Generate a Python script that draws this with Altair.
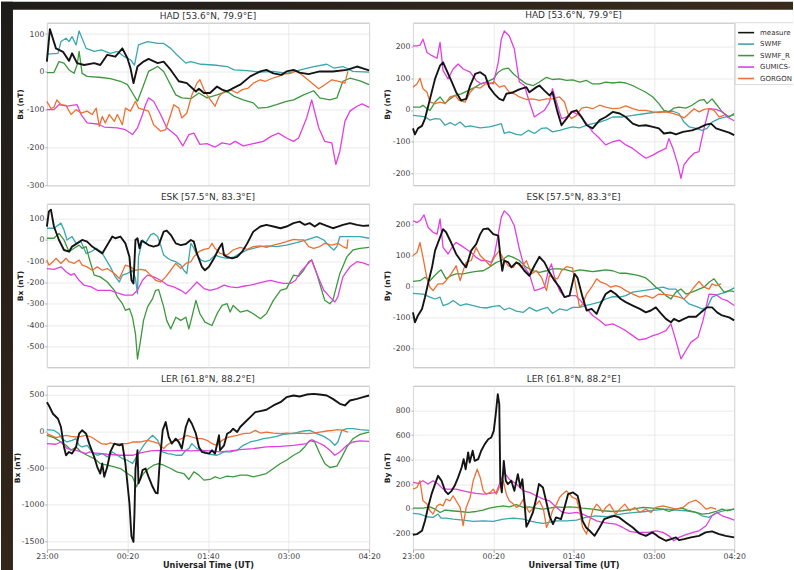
import json
import altair as alt
import pandas as pd

# ---------------------------------------------------------------------------
# Series, colours and time axis
# ---------------------------------------------------------------------------
SERIES = ["measured", "SWMF", "SWMF_RCM", "GUMICS-4", "GORGON"]
COLORS = ["#141414", "#3aa6ad", "#3c983c", "#e040e0", "#ec7034"]
MODELS = SERIES[1:]

# time in minutes after 23:00 UT
TICK_MINUTES = [0, 80, 160, 240, 320]
TICK_LABELS = ["23:00", "00:20", "01:40", "03:00", "04:20"]

# ---------------------------------------------------------------------------
# HAD  Bx
# ---------------------------------------------------------------------------
HAD_BX_MEAS_T = [0,3,9,16,22,25,30,37,47,53,60,68,75,80,83,86,90,96,101,110,116,123,131,139,148,151,156,162,169,174,179,185,192,202,212,218,225,233,238,245,251,260,271,284,298,308,313,320]
HAD_BX_MEAS = [27,113,62,53,29,49,23,18,23,18,45,40,62,36,10,-30,14,27,34,23,27,5,-25,-30,-52,-45,-56,-56,-39,-47,-52,-43,-34,-12,1,5,-4,-8,1,5,-2,-6,1,1,5,14,10,4]
HAD_BX_SWMF_T = [0,11,14,19,22,25,29,32,39,47,54,63,70,77,83,87,91,100,110,116,123,129,138,143,153,166,179,186,199,212,225,238,252,265,278,285,294,304,320]
HAD_BX_SWMF = [47,49,80,89,80,93,71,108,62,54,58,49,54,40,32,18,71,80,75,75,62,45,23,27,20,18,14,5,3,-1,1,-4,5,14,20,10,14,1,-1]
HAD_BX_RCM_T = [0,7,12,17,22,27,30,32,35,40,54,63,73,80,85,90,95,101,110,116,121,128,134,143,151,159,169,179,186,195,205,210,219,228,238,245,255,265,271,281,288,294,301,311,320]
HAD_BX_RCM = [-2,-2,27,23,5,-4,18,54,-4,-12,-15,-18,-25,-34,-56,-78,-43,1,14,1,-25,-61,-69,-71,-56,-69,-61,-52,-65,-74,-82,-96,-94,-87,-78,-74,-61,-50,-69,-74,-69,-25,-17,-24,-34]
HAD_BX_GUM_T = [0,7,12,20,30,34,40,50,57,70,78,85,90,95,98,101,106,113,119,129,135,141,146,152,159,167,174,182,187,195,205,215,223,230,238,245,250,258,263,270,276,283,287,291,296,301,308,313,320]
HAD_BX_GUM = [-100,-100,-87,-91,-87,-113,-135,-138,-146,-148,-153,-166,-148,-113,-87,-69,-78,-113,-148,-170,-196,-166,-162,-192,-190,-199,-188,-192,-184,-196,-190,-184,-170,-162,-175,-184,-175,-122,-74,-148,-184,-188,-245,-210,-131,-104,-91,-85,-94]
HAD_BX_GOR_T = [0,4,7,10,14,19,24,29,34,40,45,49,52,55,58,62,67,70,75,78,83,88,91,96,101,106,113,118,123,126,131,134,139,144,149,152,156,161,167,171,176,182,189,194,200,205,212,217,224,230,235,242,248,255,261,270,276,283,290,296,299]
HAD_BX_GOR = [-78,-97,-94,-74,-87,-89,-113,-100,-109,-104,-113,-96,-144,-118,-135,-113,-131,-113,-140,-96,-104,-78,-96,-100,-104,-140,-157,-153,-113,-87,-96,-122,-109,-61,-30,-21,-47,-69,-91,-65,-52,-47,-56,-47,-43,-30,-21,-25,-17,-12,-6,-4,3,-12,-25,-45,-34,-21,-25,-30,1]

# ---------------------------------------------------------------------------
# HAD  By
# ---------------------------------------------------------------------------
HAD_BY_MEAS_T = [0,2,5,9,12,17,22,27,30,33,38,43,48,53,57,62,67,72,76,81,86,90,93,100,106,113,116,123,126,131,136,139,144,148,153,158,163,168,173,179,186,192,199,206,212,219,225,232,239,245,250,257,262,269,278,285,292,297,302,308,315,320]
HAD_BY_MEAS = [-58,-77,-58,-50,-27,35,98,140,150,129,93,56,30,35,77,114,119,108,72,51,35,30,51,56,65,72,56,72,77,61,46,56,-6,-48,-27,-6,-1,-22,-48,-58,-32,-22,-6,-11,-22,-43,-50,-48,-53,-58,-74,-71,-77,-69,-64,-56,-46,-43,-58,-64,-71,-79]
HAD_BY_SWMF_T = [0,7,12,17,22,27,32,37,42,47,52,57,67,76,83,88,91,96,103,108,115,121,128,133,139,146,153,159,166,173,179,186,192,199,209,219,232,245,259,265,270,275,282,288,293,298,305,312,320]
HAD_BY_SWMF = [-17,-19,-22,-32,-27,-29,-48,-40,-48,-38,-53,-50,-56,-53,-48,-43,-74,-69,-77,-79,-64,-74,-58,-56,-69,-64,-58,-53,-56,-48,-43,-38,-32,-22,-22,-17,-11,-6,-4,-11,-38,-53,-58,-64,-58,-38,-27,-22,-15]
HAD_BY_RCM_T = [0,7,10,14,17,22,27,32,37,42,48,55,62,67,73,80,85,90,95,100,106,113,120,126,133,139,146,153,159,166,173,179,186,192,199,206,212,219,225,232,239,245,250,255,260,265,272,278,285,290,293,298,303,308,315,320]
HAD_BY_RCM = [9,9,15,4,-1,25,41,20,35,46,51,61,72,82,88,98,119,129,132,114,98,82,77,88,103,96,98,93,95,88,93,82,82,88,85,88,85,77,67,56,41,20,-1,-6,6,9,6,15,30,33,20,35,15,-6,-22,-11]
HAD_BY_GUM_T = [0,4,7,10,14,19,24,27,30,35,40,45,50,57,63,68,73,80,85,88,91,96,101,106,111,116,121,126,131,136,139,143,148,153,159,166,173,179,186,192,199,206,212,219,225,232,239,245,252,255,259,264,267,270,275,280,285,290,295,302,308,313,320]
HAD_BY_GUM = [202,202,204,223,181,171,163,213,124,98,129,145,129,119,93,82,88,82,150,223,249,233,192,88,77,25,-22,-11,-1,25,67,25,-27,-22,-6,-17,-43,-69,-90,-110,-100,-95,-110,-121,-136,-152,-142,-131,-121,-90,-121,-173,-215,-173,-152,-136,-131,-58,4,2,-6,-22,-34]
HAD_BY_GOR_T = [0,4,7,10,14,17,22,27,32,37,42,46,52,57,62,67,72,76,81,86,91,96,101,106,113,119,126,133,139,146,151,155,158,163,168,173,179,186,192,199,206,212,219,225,232,239,245,252,259,265,270,275,280,285,290,295,300,305,310]
HAD_BY_GOR = [72,82,100,67,56,25,20,25,20,41,46,30,25,56,72,69,82,82,88,72,77,56,51,41,33,35,30,35,35,41,25,-17,-27,-17,6,9,4,15,9,4,6,13,4,-1,-1,-6,-8,-6,-11,-17,-25,-11,4,-6,2,4,-1,-22,-17]

# ---------------------------------------------------------------------------
# ESK  Bx
# ---------------------------------------------------------------------------
ESK_BX_MEAS_T = [0,2,4,7,12,17,22,25,30,35,40,45,50,55,60,65,68,73,78,82,84,86,88,90,92,94,96,101,106,111,116,119,123,128,133,138,143,146,149,154,157,161,166,171,174,176,179,184,189,194,199,205,212,218,225,232,238,245,251,256,261,266,271,278,284,289,294,301,308,314,320]
ESK_BX_MEAS = [63,134,142,63,0,-47,-55,-31,-16,0,-8,-31,-47,-63,-24,16,8,16,-16,-79,-189,-204,0,8,-39,-5,-8,-24,-31,-24,39,44,24,-16,-24,-19,0,-8,-63,-126,-142,-126,-86,-39,-16,-71,-79,-86,-79,-55,-16,39,63,71,63,55,63,79,86,71,79,63,79,66,55,63,71,79,71,66,68]
ESK_BX_SWMF_T = [0,7,14,17,20,25,29,34,39,44,49,54,58,63,68,72,75,80,85,88,90,91,95,98,103,106,110,113,116,120,123,128,133,136,139,143,146,149,153,157,162,167,172,179,186,192,199,205,212,219,228,238,248,258,268,275,281,285,288,291,301,311,320]
ESK_BX_SWMF = [55,55,79,47,0,16,-16,-8,-63,-55,-39,-55,-86,-126,-173,-197,-165,-157,-142,-181,-252,-79,0,-16,24,31,16,-24,-71,-86,-94,-102,-118,-142,-157,-16,-39,-71,-94,-102,-94,-71,-79,-86,-79,-63,-47,-39,-31,-28,-31,-24,-13,0,16,0,-31,-47,-31,16,16,16,8]
ESK_BX_RCM_T = [0,7,12,17,22,27,32,35,39,42,47,53,60,67,70,75,78,82,85,88,90,93,96,100,105,108,111,116,119,123,128,133,138,141,144,148,152,157,164,169,174,179,182,185,192,199,205,212,218,225,232,238,245,250,255,260,263,268,273,276,281,284,291,298,304,311,320]
ESK_BX_RCM = [8,8,31,0,-55,-39,-24,-39,-31,-86,-165,-173,-197,-236,-267,-299,-330,-322,-362,-440,-558,-472,-377,-314,-275,-236,-233,-314,-377,-417,-362,-377,-362,-417,-362,-283,-346,-385,-401,-346,-307,-299,-338,-307,-338,-330,-346,-369,-346,-283,-236,-228,-165,-170,-142,-102,-94,-157,-236,-283,-299,-283,-157,-79,-47,-39,-35]
ESK_BX_GUM_T = [0,7,14,19,24,27,32,37,44,50,57,63,70,77,85,90,95,100,106,113,120,126,133,138,143,149,156,162,169,176,182,189,195,202,209,215,222,228,235,242,247,252,258,263,268,275,281,286,289,294,301,308,314,320]
ESK_BX_GUM = [-134,-138,-126,-149,-165,-157,-189,-212,-220,-236,-236,-236,-248,-259,-259,-236,-189,-165,-173,-189,-212,-220,-236,-252,-228,-197,-228,-236,-228,-212,-220,-223,-217,-212,-204,-197,-189,-197,-204,-204,-189,-149,-118,-94,-157,-236,-267,-291,-267,-173,-126,-102,-107,-118]
ESK_BX_GOR_T = [0,2,6,9,14,19,22,27,32,35,40,45,50,55,60,67,72,75,78,83,88,93,98,103,108,113,118,123,128,133,138,143,146,151,156,161,164,167,172,179,185,192,199,205,212,218,225,232,238,245,250,255,260,265,271,276,283,289,294,298,299]
ESK_BX_GOR = [-94,-118,-102,-86,-110,-86,-102,-110,-94,-118,-126,-142,-126,-142,-134,-157,-181,-149,-118,-126,-142,-138,-142,-165,-189,-197,-173,-142,-110,-134,-110,-102,-79,-55,-44,-39,-16,-39,-63,-71,-47,-35,-44,-31,-28,-35,-24,-16,-8,3,0,0,-31,-39,-31,-16,-24,-16,-31,-39,3]

# ---------------------------------------------------------------------------
# ESK  By
# ---------------------------------------------------------------------------
ESK_BY_MEAS_T = [0,2,5,9,12,15,19,22,27,30,33,38,43,50,53,58,63,67,70,75,80,85,87,89,91,95,98,103,106,111,116,121,126,131,136,141,146,151,156,161,164,169,173,178,183,187,192,197,202,207,212,219,226,232,237,242,247,252,257,260,265,270,275,282,287,293,298,303,308,315,320]
ESK_BY_MEAS = [-84,-116,-94,-73,-35,8,61,115,158,184,174,141,104,72,61,115,136,168,184,186,168,163,99,50,83,77,61,77,72,50,34,66,95,77,45,18,-3,-35,-30,40,27,-35,-78,-73,-89,-57,-25,-14,-25,-41,-51,-62,-73,-84,-78,-68,-87,-105,-116,-105,-113,-105,-98,-98,-84,-68,-68,-84,-94,-100,-110]
ESK_BY_SWMF_T = [0,10,17,22,27,30,35,40,47,53,60,67,73,80,86,91,96,103,110,116,123,129,134,139,146,153,159,166,172,179,186,192,199,206,212,219,229,239,249,255,262,268,275,282,288,293,298,305,312,315,320]
ESK_BY_SWMF = [-23,-25,-35,-41,-35,-62,-57,-46,-62,-57,-62,-68,-70,-65,-62,-76,-70,-80,-84,-68,-80,-73,-68,-87,-73,-78,-68,-68,-62,-57,-51,-41,-33,-35,-30,-19,-14,-9,-3,-9,-9,-35,-57,-65,-73,-68,-35,-25,-19,-14,-5]
ESK_BY_RCM_T = [0,7,12,17,20,25,28,33,38,43,50,57,63,70,76,83,88,95,100,106,113,120,126,133,139,146,153,159,166,173,179,186,192,199,206,212,219,225,232,237,242,247,252,257,262,267,272,278,285,290,295,300,305,310,315,320]
ESK_BY_RCM = [16,18,29,18,29,45,53,24,34,40,40,45,48,50,61,77,83,99,93,83,61,50,45,50,56,56,53,47,53,50,47,50,53,50,42,42,38,34,27,13,-3,-14,-30,-41,-19,-9,-25,-19,-9,-3,13,24,2,-19,-14,-17]
ESK_BY_GUM_T = [0,4,7,11,15,20,24,27,30,35,40,43,48,53,58,63,68,73,78,81,85,88,91,96,101,106,111,116,121,126,131,135,138,141,146,151,156,162,167,172,179,186,192,199,206,212,219,225,232,239,245,252,257,262,267,272,277,284,289,295,302,308,313,320]
ESK_BY_GUM = [211,206,211,230,190,174,168,217,125,104,131,141,131,120,109,93,83,83,77,99,168,222,243,227,195,120,61,40,-14,-9,-3,50,72,29,-14,-35,-30,-30,-46,-68,-94,-110,-126,-121,-132,-143,-159,-173,-169,-159,-153,-143,-121,-175,-234,-207,-180,-164,-110,-25,-27,-41,-46,-62]
ESK_BY_GOR_T = [0,4,7,10,14,17,20,25,30,33,38,43,47,50,53,58,63,67,72,77,81,86,90,95,100,103,108,113,118,123,128,133,136,139,144,148,153,159,163,166,169,173,178,183,187,192,197,202,207,212,219,226,232,239,245,252,259,265,270,275,280,285,290,295,298,302,307]
ESK_BY_GOR = [99,109,141,93,24,-3,-14,8,8,18,40,66,18,50,77,83,125,99,83,66,93,115,88,66,61,77,61,83,40,50,29,-14,34,29,24,50,63,59,-14,-68,-57,-25,-3,24,13,8,-3,2,-3,-14,-25,-35,-30,-38,-25,-27,-30,-35,-41,-25,-3,16,-3,-9,8,2,8]

# ---------------------------------------------------------------------------
# LER  Bx
# ---------------------------------------------------------------------------
LER_BX_MEAS_T = [0,2,6,11,14,17,19,22,25,29,32,35,39,42,47,50,53,55,57,60,63,67,72,75,78,82,84,86,87,88,90,91,93,95,98,101,105,108,110,112,115,118,121,124,128,131,134,138,141,144,148,151,154,157,161,164,167,171,172,176,179,182,185,189,192,197,202,207,212,218,225,232,238,245,251,258,265,271,278,284,291,296,301,308,314,320]
LER_BX_MEAS = [398,353,240,172,59,-213,-326,-281,-303,-213,-32,14,-32,-167,-348,-484,-575,-439,-620,-484,-281,-167,-190,-176,-439,-982,-1434,-1507,-1118,-507,-258,-710,-643,-529,-507,-620,-756,-837,-846,-439,14,127,-77,-167,-100,-145,-235,59,172,104,-32,-213,-281,-294,-303,-258,-303,-54,-258,-190,-32,-9,36,-9,59,127,195,262,276,294,353,398,466,489,475,502,511,502,489,443,376,353,421,443,466,489]
LER_BX_SWMF_T = [0,7,12,15,20,25,29,32,35,40,45,50,55,60,65,70,75,80,85,88,91,95,100,105,110,115,120,124,129,134,138,141,144,149,156,162,169,176,182,189,195,202,209,215,222,228,235,242,248,255,261,268,275,281,286,289,293,298,304,311,320]
LER_BX_SWMF = [23,14,-32,-100,-145,-122,-100,-190,-213,-190,-281,-326,-303,-348,-281,-326,-371,-394,-439,-371,-303,-213,-122,-54,-122,-281,-303,-312,-326,-326,-258,-235,-167,-235,-267,-312,-326,-281,-281,-258,-190,-145,-122,-100,-86,-68,-41,-32,-18,5,14,-32,-68,-122,-190,-145,14,36,36,23,14]
LER_BX_RCM_T = [0,7,14,19,24,29,34,40,47,53,60,67,73,80,85,89,92,96,101,106,111,116,123,129,136,141,146,151,156,162,167,172,179,185,192,199,205,212,218,225,232,238,245,251,256,261,266,271,276,281,288,293,298,304,311,320]
LER_BX_RCM = [-54,-86,-145,-190,-258,-213,-281,-326,-371,-439,-462,-484,-507,-575,-620,-756,-665,-575,-507,-462,-439,-462,-507,-552,-575,-656,-552,-597,-665,-656,-620,-643,-611,-620,-597,-597,-620,-597,-575,-507,-439,-394,-326,-281,-213,-122,-145,-303,-439,-493,-475,-348,-213,-100,-41,-9]
LER_BX_GUM_T = [0,9,14,20,29,34,39,42,47,60,73,85,93,103,113,123,133,143,153,162,172,182,192,205,218,232,245,258,263,268,275,281,286,291,298,304,311,320]
LER_BX_GUM = [-167,-176,-145,-235,-258,-281,-303,-281,-294,-312,-326,-326,-294,-267,-258,-267,-258,-267,-258,-267,-281,-267,-249,-235,-213,-204,-190,-167,-113,-145,-190,-258,-326,-281,-190,-145,-131,-136]
LER_BX_GOR_T = [0,4,9,14,19,24,29,34,39,44,49,54,59,63,68,73,80,86,93,100,106,111,116,119,124,129,134,139,144,149,154,159,164,169,174,179,184,189,195,202,207,212,218,225,232,238,245,251,258,265,271,278,284,289,294,299]
LER_BX_GOR = [-32,-54,-86,-68,-54,-68,-77,-68,-54,-77,-122,-167,-176,-158,-176,-167,-167,-145,-145,-122,-145,-167,-235,-190,-145,-122,-100,-54,-77,-100,-100,-122,-167,-190,-122,-86,-68,-54,-32,-23,14,-23,-9,-23,-32,-23,-32,-23,-32,-23,-9,5,14,23,14,-9]

# ---------------------------------------------------------------------------
# LER  By
# ---------------------------------------------------------------------------
LER_BY_MEAS_T = [0,4,9,12,15,18.5,22,25,28.5,32,35,38.5,41.5,45,48.5,50.5,52.5,55,56.5,59.5,61.5,65,68,71.5,75,78,80.5,82.5,84.5,86,87,88.5,90.5,92.5,94.5,98,101,104.5,107,109,111,113,116,119.5,123,125.5,129.5,133,136,139.5,142.5,147.5,151,154.5,159.5,164,166,169,172.5,176,181,186,190.5,195.5,200.5,205.5,212,219,225.5,232,238.5,242,245.5,252,257,262,265,270,277,285,291.5,298,305,311.5,320]
LER_BY_MEAS = [-211,-206,-179,-98,11,119,201,268,228,146,119,146,187,255,336,404,322,458,377,472,390,404,472,526,566,580,634,770,932,851,228,133,390,228,201,228,146,282,173,241,65,-146,-98,-30,92,201,173,51,-57,-125,-70,-84,11,119,133,106,38,-98,-152,-179,-220,-152,-84,-70,-57,-70,-111,-152,-201,-220,-192,-211,-233,-260,-247,-233,-255,-247,-233,-220,-192,-184,-206,-220,-233]
LER_BY_SWMF_T = [0,7,14,20,25,28,33,40,50,60,70,80,90,100,110,116,123,129,136,143,153,163,172,182,192,202,212,222,232,242,252,262,272,282,288,295,300,307,313,320]
LER_BY_SWMF = [-38,-43,-65,-70,-43,-76,-76,-84,-92,-103,-98,-103,-84,-76,-84,-98,-111,-119,-111,-98,-98,-92,-70,-57,-65,-49,-38,-30,-22,-11,-3,-11,-16,-30,-57,-70,-43,-22,-11,-3]
LER_BY_RCM_T = [0,10,17,22,27,32,38,47,55,63,70,76,83,90,96,103,110,116,123,129,136,143,149,156,163,169,179,189,199,209,219,229,239,249,255,262,268,275,282,288,295,302,308,313,320]
LER_BY_RCM = [5,5,16,-3,-30,-11,-16,-22,-30,-22,-11,5,16,24,16,33,11,16,5,-3,5,16,11,16,11,5,-3,-16,-22,-16,-3,11,5,-3,-22,-3,5,-16,-30,-43,-38,-22,-3,-16,-3]
LER_BY_GUM_T = [0,5,10,15,20,25,30,37,43,50,57,63,70,77,83,88,91,96,103,110,116,123,130,136,143,149,156,163,169,176,183,189,196,202,209,216,222,229,235,242,249,255,260,265,272,279,285,292,298,303,308,315,320]
LER_BY_GUM = [214,206,228,201,228,201,160,160,160,146,133,125,119,125,133,241,295,241,201,146,133,106,79,65,11,-30,-38,-30,-43,-70,-98,-111,-119,-125,-152,-184,-192,-192,-192,-179,-192,-220,-260,-233,-211,-192,-179,-138,-57,-30,-57,-76,-92]
LER_BY_GOR_T = [0,4,7,10,14,17,20,24,27,30,33,37,40,43,47,50,53,57,60,64,67,70,73,77,80,83,86,90,93,96,100,103,106,110,113,116,120,123,126,130,133,136,139,143,146,149,153,156,159,163,166,169,173,176,179,183,186,189,192,196,199,202,206,211,216,221,226,232,237,242,249,255,262,269,275,282,287,292,297,302]
LER_BY_GOR = [160,173,228,65,38,-16,-43,24,38,24,79,65,106,65,11,-138,11,92,228,322,255,146,119,133,160,119,173,228,119,65,38,11,24,79,11,-30,11,38,65,-3,-152,-98,-16,38,92,119,146,119,92,79,-16,-152,-206,-98,-16,38,11,-30,11,38,-3,-43,-3,38,-16,11,-30,-3,-30,11,24,11,-3,11,51,70,38,-3,11,-3]

# ---------------------------------------------------------------------------
# Styling
# ---------------------------------------------------------------------------
FONT = "DejaVu Sans"
PANEL_W_LEFT, PANEL_W_RIGHT = 323, 322
ROW_H = [163, 164, 164]
ROW_GAP, COL_GAP = 18.5, 44
MODEL_WIDTH, MEAS_WIDTH = 1.3, 1.9

ONE = pd.DataFrame({"k": [0]})
LEG_DF = pd.DataFrame({"series": SERIES})
FRAME_DF = pd.DataFrame({"x": [0, 0, 0], "x2": [58, 58, 0], "y": [0, 62, 0], "y2": [0, 62, 62]})

color_scale = alt.Scale(domain=SERIES, range=COLORS)
time_label_expr = f"{json.dumps(TICK_LABELS)}[indexof({json.dumps(TICK_MINUTES)}, datum.value)]"


def table(pairs):
    parts = []
    for name, t, v in pairs:
        assert len(t) == len(v), (name, len(t), len(v))
        parts.append(pd.DataFrame({"t": t, "v": v, "series": name}))
    return pd.concat(parts, ignore_index=True)


def panel_title(text):
    return alt.TitleParams(text=text, frame="group", anchor="middle")


def curves(models, measured, ydomain, yticks, ytitle, bottom, title_x):
    if bottom:
        xaxis = alt.Axis(values=TICK_MINUTES, labelExpr=time_label_expr, labelFlush=False,
                         title="Universal Time (UT)", titleFontWeight="bold", titleFontSize=8.2,
                         titlePadding=1.5, tickSize=3, labelPadding=0, grid=True)
    else:
        xaxis = alt.Axis(values=TICK_MINUTES, labels=False, ticks=False, title=None, grid=True)
    yaxis = alt.Axis(values=yticks, labelExpr="datum.value + ''", title=ytitle,
                     titleFontWeight="bold", titleFontSize=7.5, titleX=title_x,
                     titleBaseline="middle", tickSize=2, labelPadding=1, grid=True)
    x = alt.X("t:Q", scale=alt.Scale(domain=[0, 320], nice=False, zero=False), axis=xaxis)
    y = alt.Y("v:Q", scale=alt.Scale(domain=ydomain, nice=False, zero=False), axis=yaxis)
    model_lines = alt.Chart(table(models)).mark_line(strokeWidth=MODEL_WIDTH, strokeJoin="round").encode(
        x=x, y=y, color=alt.Color("series:N", scale=color_scale, legend=None))
    meas_line = alt.Chart(table([measured])).mark_line(strokeWidth=MEAS_WIDTH, strokeJoin="round").encode(
        x=x, y=y, color=alt.Color("series:N", scale=color_scale, legend=None))
    return alt.layer(model_lines, meas_line)


def key_layers(x0):
    """Series key placed to the right of the top-right panel."""
    kx = alt.Scale(domain=[0, 58], range=[x0, x0 + 58])
    ky = alt.Scale(type="point", domain=SERIES, range=[10, 56], padding=0)
    fy = alt.Scale(domain=[0, 62], range=[0, 62])
    frame = alt.Chart(FRAME_DF).mark_rule(color="#d2d2d2", strokeWidth=0.8).encode(
        x=alt.X("x:Q", scale=kx, axis=None), x2="x2:Q",
        y=alt.Y("y:Q", scale=fy, axis=None), y2="y2:Q")
    swatch = alt.Chart(LEG_DF).transform_calculate(a="3", b="19").mark_rule(strokeWidth=1.6).encode(
        x=alt.X("a:Q", scale=kx, axis=None), x2="b:Q",
        y=alt.Y("series:N", scale=ky, axis=None),
        color=alt.Color("series:N", scale=color_scale, legend=None))
    label = alt.Chart(LEG_DF).transform_calculate(tx="25").mark_text(
        align="left", baseline="middle", fontSize=7, font=FONT, color="#333",
        limit=33, ellipsis="\u200b").encode(
        x=alt.X("tx:Q", scale=kx, axis=None),
        y=alt.Y("series:N", scale=ky, axis=None),
        text="series:N")
    return [frame, swatch, label]


def backdrop():
    """Dark surround along the top and left edges of the figure.

    Drawn from an untitled strip below the grid so it does not push any
    panel title upwards; offsets are relative to that strip's origin."""
    top_y = -(21 + sum(ROW_H) + 3 * ROW_GAP)
    top = alt.Chart(ONE).mark_rect(fill=alt.LinearGradient(
        gradient="linear", x1=0, x2=1, y1=0, y2=0,
        stops=[alt.GradientStop(color="#1e1c1a", offset=0), alt.GradientStop(color="#3a2b1d", offset=1)])
    ).encode(x=alt.value(-46), x2=alt.value(748), y=alt.value(top_y), y2=alt.value(top_y + 8))
    left = alt.Chart(ONE).mark_rect(fill=alt.LinearGradient(
        gradient="linear", x1=0, x2=0, y1=0, y2=1,
        stops=[alt.GradientStop(color="#1e1c1a", offset=0), alt.GradientStop(color="#33261a", offset=1)])
    ).encode(x=alt.value(-46), x2=alt.value(-34), y=alt.value(top_y), y2=alt.value(top_y + 570))
    return alt.layer(top, left).properties(
        width=PANEL_W_LEFT, height=1, view=alt.ViewBackground(stroke="transparent"))


def models_of(prefix):
    g = globals()
    return [(name, g[f"{prefix}_{key}_T"], g[f"{prefix}_{key}"])
            for name, key in zip(MODELS, ["SWMF", "RCM", "GUM", "GOR"])]


def measured_of(prefix):
    g = globals()
    return ("measured", g[f"{prefix}_MEAS_T"], g[f"{prefix}_MEAS"])


p1 = curves(models_of("HAD_BX"), measured_of("HAD_BX"), [-300, 130],
            [-300, -200, -100, 0, 100], "Bx (nT)", False, -26).properties(
    width=PANEL_W_LEFT, height=ROW_H[0], title=panel_title("HAD [53.6°N, 79.9°E]"))

p2 = alt.layer(curves(models_of("HAD_BY"), measured_of("HAD_BY"), [-237, 275],
                      [-200, -100, 0, 100, 200], "By (nT)", False, -26),
               *key_layers(PANEL_W_RIGHT + 1)).resolve_scale(x="independent", y="independent").properties(
    width=PANEL_W_RIGHT, height=ROW_H[0], title=panel_title("HAD [53.6°N, 79.9°E]"))

p3 = curves(models_of("ESK_BX"), measured_of("ESK_BX"), [-597, 170],
            [-500, -400, -300, -200, -100, 0, 100], "Bx (nT)", False, -26).properties(
    width=PANEL_W_LEFT, height=ROW_H[1], title=panel_title("ESK [57.5°N, 83.3°E]"))

p4 = curves(models_of("ESK_BY"), measured_of("ESK_BY"), [-261, 266],
            [-200, -100, 0, 100, 200], "By (nT)", False, -26).properties(
    width=PANEL_W_RIGHT, height=ROW_H[1], title=panel_title("ESK [57.5°N, 83.3°E]"))

p5 = curves(models_of("LER_BX"), measured_of("LER_BX"), [-1609, 622],
            [-1500, -1000, -500, 0, 500], "Bx (nT)", True, -29).properties(
    width=PANEL_W_LEFT, height=ROW_H[2], title=panel_title("LER [61.8°N, 88.2°E]"))

p6 = curves(models_of("LER_BY"), measured_of("LER_BY"), [-330, 1001],
            [-200, 0, 200, 400, 600, 800], "By (nT)", True, -26).properties(
    width=PANEL_W_RIGHT, height=ROW_H[2], title=panel_title("LER [61.8°N, 88.2°E]"))

chart = alt.concat(p1, p2, p3, p4, p5, p6, backdrop(), columns=2, bounds="flush",
                   spacing={"row": ROW_GAP, "column": COL_GAP}).configure(
    padding=0, background="white", font=FONT
).configure_view(
    stroke="#b9b9b9", strokeWidth=1
).configure_axis(
    labelFont=FONT, labelFontSize=7.8, labelColor="#444", titleFont=FONT, titleColor="#222",
    gridColor="#e4e4e4", gridWidth=0.8, tickColor="#aaaaaa", domain=False
).configure_title(
    font=FONT, fontSize=9, fontWeight="normal", color="#333", offset=2, anchor="middle"
)

chart.save("out.html", embed_options={"renderer": "svg", "actions": False})
